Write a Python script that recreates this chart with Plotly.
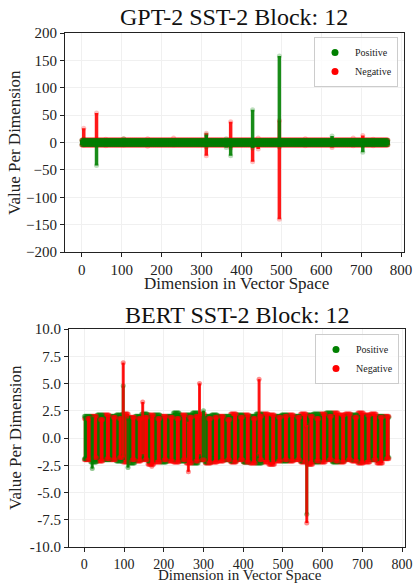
import plotly.graph_objects as go

W, H = 414, 583
N_DIM = 768

# ---------------- GPT-2 data ----------------
gpt_base_pos = [-3.5, 3.5]
gpt_base_neg = [-4.5, 4.5]
gpt_pos_spike_dims = [5, 37, 105, 312, 362, 373, 428, 495, 627, 704]
gpt_pos_spike_lo = [-4, -42, -4, -8, -9, -24, -10, -8, -5, -18]
gpt_pos_spike_hi = [6, 4, 7, 14, 7, 4, 60, 158, 12, 4]
gpt_neg_spike_dims = [5, 37, 60, 105, 165, 230, 312, 373, 428, 442, 495, 560, 627, 680, 704, 730]
gpt_neg_spike_lo = [-5, -5, -6, -5, -7, -5, -24, -10, -35, -12, -140, -6, -9, -6, -6, -6]
gpt_neg_spike_hi = [26, 54, 6, 7, 7, 8, 17, 38, 4, 8, 40, 7, 5, 8, 13, 6]

# ---------------- BERT data (envelopes per 16-dim chunk) ----------------
bert_chunk = 16
bert_pos_hi = [2.0, 1.9, 2.1, 1.8, 2.0, 2.1, 1.9, 1.8, 2.0, 2.2, 1.9, 2.1, 1.8, 2.0, 2.3, 1.9,
               2.1, 2.3, 1.8, 2.0, 2.1, 1.9, 2.0, 1.8, 2.1, 1.9, 2.0, 2.2, 1.9, 1.8, 2.0, 2.1,
               1.9, 2.0, 1.8, 2.1, 2.2, 2.0, 2.3, 1.9, 1.8, 2.0, 2.1, 1.9, 2.0, 1.8, 2.0, 1.9]
bert_pos_lo = [-1.9, -2.2, -1.8, -2.0, -1.9, -2.1, -1.8, -2.3, -2.0, -1.9, -2.1, -1.8, -2.2, -1.9, -2.0, -2.1,
               -1.8, -2.3, -2.0, -2.2, -1.9, -1.8, -2.0, -2.1, -1.9, -2.2, -2.0, -2.3, -1.8, -2.0, -1.9, -2.1,
               -2.0, -1.8, -2.1, -1.9, -2.2, -2.0, -1.9, -2.2, -2.1, -1.9, -2.0, -2.1, -1.8, -2.0, -1.9, -1.8]
bert_neg_hi = [1.8, 2.0, 1.7, 2.1, 1.9, 1.8, 2.2, 1.9, 1.8, 1.9, 2.1, 1.8, 2.0, 1.9, 1.8, 2.1,
               1.9, 2.0, 2.2, 1.8, 1.9, 2.0, 1.7, 2.2, 1.9, 2.1, 1.8, 2.0, 2.2, 2.1, 1.9, 2.0,
               2.1, 1.9, 2.2, 2.0, 1.8, 2.2, 2.0, 2.3, 2.1, 2.2, 1.9, 2.3, 2.1, 2.2, 1.9, 2.0]
bert_neg_lo = [-2.0, -1.8, -2.1, -1.9, -2.0, -1.8, -2.2, -2.0, -2.1, -2.0, -2.4, -2.2, -2.0, -2.1, -2.2, -2.0,
               -2.3, -2.1, -2.0, -2.3, -2.2, -2.1, -2.0, -2.2, -2.0, -2.2, -2.3, -2.0, -2.2, -2.4, -2.1, -2.0,
               -2.1, -2.0, -2.2, -2.4, -2.1, -2.2, -2.0, -2.1, -2.2, -2.0, -2.1, -2.3, -2.2, -2.0, -2.3, -1.9]
bert_pos_spike_dims = [20, 98, 110, 300, 560]
bert_pos_spike_lo = [-2.8, -1.6, -2.7, -1.8, -7.0]
bert_pos_spike_hi = [1.9, 4.8, 1.8, 2.5, 1.0]
bert_neg_spike_dims = [98, 147, 170, 262, 290, 440, 560]
bert_neg_spike_lo = [-1.8, -1.5, -2.6, -3.1, -1.5, -1.5, -7.8]
bert_neg_spike_hi = [6.9, 3.3, 1.8, 1.5, 5.0, 5.4, 1.2]

GREEN = "0,128,0"
RED = "255,0,0"


def envelopes_const(base, spike_dims, spike_lo, spike_hi):
    lo = [base[0]] * N_DIM
    hi = [base[1]] * N_DIM
    for d, a, b in zip(spike_dims, spike_lo, spike_hi):
        lo[d], hi[d] = a, b
    return lo, hi


def envelopes_chunk(lo_c, hi_c, spike_dims, spike_lo, spike_hi):
    lo = [lo_c[min(d // bert_chunk, len(lo_c) - 1)] for d in range(N_DIM)]
    hi = [hi_c[min(d // bert_chunk, len(hi_c) - 1)] for d in range(N_DIM)]
    for d, a, b in zip(spike_dims, spike_lo, spike_hi):
        lo[d], hi[d] = a, b
    return lo, hi


def segs(lo, hi, dims):
    xs, ys = [], []
    for d in dims:
        xs += [d, d, None]
        ys += [lo[d], hi[d], None]
    return xs, ys


fig = go.Figure()


def add_class(lo, hi, rgb, xa, ya, line_alpha, lw, msize, dims=None):
    if dims is None:
        dims = range(N_DIM)
    xs, ys = segs(lo, hi, dims)
    fig.add_trace(go.Scatter(
        x=xs, y=ys, mode="lines+markers", xaxis=xa, yaxis=ya,
        line=dict(color=f"rgba({rgb},{line_alpha})", width=lw),
        marker=dict(color=f"rgba({rgb},0.25)", size=msize, line=dict(width=0)),
        showlegend=False, hoverinfo="skip"))


# GPT-2
g_pos = envelopes_const(gpt_base_pos, gpt_pos_spike_dims, gpt_pos_spike_lo, gpt_pos_spike_hi)
g_neg = envelopes_const(gpt_base_neg, gpt_neg_spike_dims, gpt_neg_spike_lo, gpt_neg_spike_hi)
add_class(*g_neg, RED, "x", "y", 0.9, 3.5, 5)
add_class(*g_pos, GREEN, "x", "y", 0.9, 3.5, 5)

# BERT: the two classes overlap; alternate which one is drawn on top in narrow
# columns so both colours show through, as in the dense original scatter
b_pos = envelopes_chunk(bert_pos_lo, bert_pos_hi, bert_pos_spike_dims, bert_pos_spike_lo, bert_pos_spike_hi)
b_neg = envelopes_chunk(bert_neg_lo, bert_neg_hi, bert_neg_spike_dims, bert_neg_spike_lo, bert_neg_spike_hi)
STRIPE = 8
dims_green_top = [d for d in range(N_DIM) if (d // STRIPE) % 2 == 0]
dims_red_top = [d for d in range(N_DIM) if (d // STRIPE) % 2 == 1]
add_class(*b_neg, RED, "x2", "y2", 0.85, 1.2, 5, dims_green_top)
add_class(*b_pos, GREEN, "x2", "y2", 0.8, 1.2, 5, dims_green_top)
add_class(*b_pos, GREEN, "x2", "y2", 0.85, 1.2, 5, dims_red_top)
add_class(*b_neg, RED, "x2", "y2", 0.8, 1.2, 5, dims_red_top)
# outlying columns drawn thicker so they read like stacks of dots
add_class(*b_pos, GREEN, "x2", "y2", 0.85, 3, 5, bert_pos_spike_dims)
add_class(*b_neg, RED, "x2", "y2", 0.85, 3, 5, bert_neg_spike_dims)

# legend entries
for name, rgb, xa, ya, lg in [("Positive", GREEN, "x", "y", "legend"), ("Negative", RED, "x", "y", "legend"),
                              ("Positive", GREEN, "x2", "y2", "legend2"), ("Negative", RED, "x2", "y2", "legend2")]:
    fig.add_trace(go.Scatter(x=[None], y=[None], mode="markers", name=name, xaxis=xa, yaxis=ya,
                             marker=dict(color=f"rgb({rgb})", size=7), legend=lg))

FONT = "Liberation Serif"


def px_x(p):
    return p / W


def px_y(p):
    return 1 - p / H


axis_common = dict(showline=True, mirror=True, linecolor="#222", linewidth=1,
                   ticks="outside", ticklen=4, tickcolor="#222", automargin=False,
                   showgrid=True, gridcolor="#f0f0f0", gridwidth=1, zeroline=False)
TICKFONT = dict(family=FONT, size=15, color="#222")

fig.update_layout(
    width=W, height=H, margin=dict(l=0, r=0, t=0, b=0, autoexpand=False),
    paper_bgcolor="white", plot_bgcolor="white",
    font=dict(family=FONT, color="#222"),
    xaxis=dict(domain=[px_x(65), px_x(403.5)], range=[-42, 806], anchor="y", tickfont=TICKFONT,
               tickvals=[0, 100, 200, 300, 400, 500, 600, 700, 800], **axis_common),
    yaxis=dict(domain=[px_y(252), px_y(33)], range=[-200, 200], anchor="x", tickfont=TICKFONT,
               tickvals=[200, 150, 100, 50, 0, -50, -100, -150, -200], **axis_common),
    xaxis2=dict(domain=[px_x(69), px_x(404.5)], range=[-38.5, 806], anchor="y2",
                tickfont=dict(family=FONT, size=14, color="#222"),
                tickvals=[0, 100, 200, 300, 400, 500, 600, 700, 800], **axis_common),
    yaxis2=dict(domain=[px_y(547), px_y(329)], range=[-10, 10], anchor="x2", tickfont=TICKFONT,
                tickvals=[10, 7.5, 5, 2.5, 0, -2.5, -5, -7.5, -10],
                ticktext=["10.0", "7.5", "5.0", "2.5", "0.0", "-2.5", "-5.0", "-7.5", "-10.0"],
                **axis_common),
    legend=dict(x=px_x(398), y=px_y(37), xanchor="right", yanchor="top",
                bgcolor="rgba(255,255,255,0.8)", bordercolor="#ccc", borderwidth=1,
                font=dict(family=FONT, size=10), itemwidth=30, tracegroupgap=0),
    legend2=dict(x=px_x(399), y=px_y(334), xanchor="right", yanchor="top",
                 bgcolor="rgba(255,255,255,0.8)", bordercolor="#ccc", borderwidth=1,
                 font=dict(family=FONT, size=10), itemwidth=30, tracegroupgap=0),
    annotations=[
        dict(text="GPT-2 SST-2 Block: 12", x=px_x(234), y=px_y(17), xref="paper", yref="paper",
             xanchor="center", yanchor="middle",
             showarrow=False, font=dict(family=FONT, size=24, color="#111")),
        dict(text="BERT SST-2 Block: 12", x=px_x(237), y=px_y(315), xref="paper", yref="paper",
             xanchor="center", yanchor="middle",
             showarrow=False, font=dict(family=FONT, size=24, color="#111")),
        dict(text="Dimension in Vector Space", x=px_x(236), y=px_y(283), xref="paper", yref="paper",
             xanchor="center", yanchor="middle",
             showarrow=False, font=dict(family=FONT, size=17, color="#222")),
        dict(text="Dimension in Vector Space", x=px_x(240), y=px_y(575), xref="paper", yref="paper",
             xanchor="center", yanchor="middle",
             showarrow=False, font=dict(family=FONT, size=15, color="#222")),
        dict(text="Value Per Dimension", x=px_x(15), y=px_y(143), xref="paper", yref="paper",
             xanchor="center", yanchor="middle",
             showarrow=False, textangle=-90, font=dict(family=FONT, size=17, color="#222")),
        dict(text="Value Per Dimension", x=px_x(15), y=px_y(438), xref="paper", yref="paper",
             xanchor="center", yanchor="middle",
             showarrow=False, textangle=-90, font=dict(family=FONT, size=17, color="#222")),
    ],
)

fig.write_html("out.html", config={"displayModeBar": False},
               post_script="document.body.style.margin='0';document.body.style.overflow='hidden';")
